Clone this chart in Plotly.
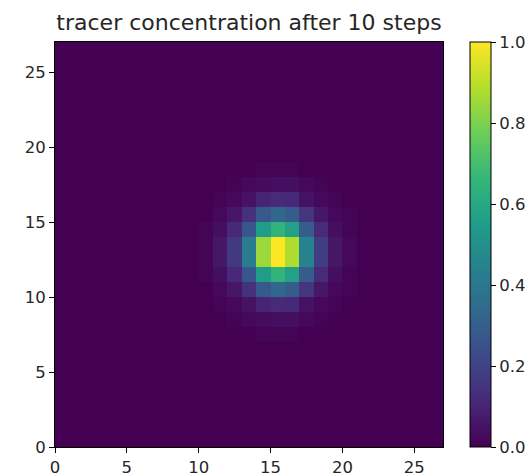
import plotly.graph_objects as go

# grid size
N = 27
# nonzero block of the tracer field (rows 7..18, cols 10..20), rest is 0
block_row0 = 7
block_col0 = 10
blob = [
    [0.00, 0.00, 0.00, 0.00, 0.01, 0.01, 0.01, 0.00, 0.00, 0.00, 0.00],  # row 7
    [0.00, 0.00, 0.01, 0.02, 0.03, 0.04, 0.04, 0.02, 0.01, 0.00, 0.00],  # row 8
    [0.00, 0.01, 0.02, 0.05, 0.10, 0.12, 0.11, 0.05, 0.02, 0.01, 0.00],  # row 9
    [0.00, 0.02, 0.06, 0.14, 0.28, 0.33, 0.29, 0.15, 0.06, 0.02, 0.01],  # row 10
    [0.01, 0.04, 0.11, 0.27, 0.55, 0.65, 0.57, 0.29, 0.12, 0.04, 0.01],  # row 11
    [0.01, 0.06, 0.17, 0.42, 0.85, 1.00, 0.88, 0.45, 0.18, 0.06, 0.02],  # row 12
    [0.01, 0.06, 0.17, 0.42, 0.85, 1.00, 0.88, 0.45, 0.18, 0.06, 0.02],  # row 13
    [0.01, 0.04, 0.11, 0.27, 0.55, 0.65, 0.57, 0.29, 0.12, 0.04, 0.01],  # row 14
    [0.00, 0.02, 0.06, 0.14, 0.28, 0.33, 0.29, 0.15, 0.06, 0.02, 0.01],  # row 15
    [0.00, 0.01, 0.02, 0.05, 0.10, 0.12, 0.11, 0.05, 0.02, 0.01, 0.00],  # row 16
    [0.00, 0.00, 0.01, 0.02, 0.03, 0.04, 0.04, 0.02, 0.01, 0.00, 0.00],  # row 17
    [0.00, 0.00, 0.00, 0.00, 0.01, 0.01, 0.01, 0.00, 0.00, 0.00, 0.00],  # row 18
]
axis_ticks = [0, 5, 10, 15, 20, 25]
cbar_ticks = [0.0, 0.2, 0.4, 0.6, 0.8, 1.0]
cbar_ticklabels = ["0.0", "0.2", "0.4", "0.6", "0.8", "1.0"]
title_text = "tracer concentration after 10 steps"

field = [[0.0] * N for _ in range(N)]
for i, row in enumerate(blob):
    for j, val in enumerate(row):
        field[block_row0 + i][block_col0 + j] = val

FONT = "DejaVu Sans"
TXT = "#262626"
fig = go.Figure(
    go.Heatmap(
        z=field,
        x0=0.5, dx=1, y0=0.5, dy=1,
        colorscale="Viridis",
        zmin=0, zmax=1,
        colorbar=dict(
            x=(470 - 55) / 388, xanchor="left", xpad=0,
            y=0.5, yanchor="middle", ypad=0,
            len=1.0, lenmode="fraction",
            thickness=21,
            outlinecolor="black", outlinewidth=1,
            tickmode="array", tickvals=cbar_ticks, ticktext=cbar_ticklabels,
            ticks="outside", ticklen=5, tickcolor="black",
            tickfont=dict(family=FONT, size=16.5, color=TXT),
        ),
    )
)

axis_common = dict(
    range=[0, N],
    tickmode="array",
    tickvals=axis_ticks,
    ticks="outside", ticklen=5, tickcolor="black",
    showline=True, linecolor="black", linewidth=1, mirror=True,
    showgrid=False, zeroline=False,
    tickfont=dict(family=FONT, size=16.5, color=TXT),
)
fig.update_xaxes(**axis_common)
fig.update_yaxes(**axis_common)

fig.update_layout(
    width=528, height=476,
    margin=dict(l=55, r=85, t=42, b=29, autoexpand=False),
    paper_bgcolor="white", plot_bgcolor="white",
    title=dict(
        text=title_text, x=(55 + 443) / 2 / 528, xanchor="center",
        y=1 - 22 / 476, yanchor="middle",
        font=dict(family=FONT, size=22, color=TXT),
    ),
)

fig.write_html(
    "out.html",
    config={"displayModeBar": False},
    post_script="document.body.style.margin='0';document.body.style.padding='0';",
)
